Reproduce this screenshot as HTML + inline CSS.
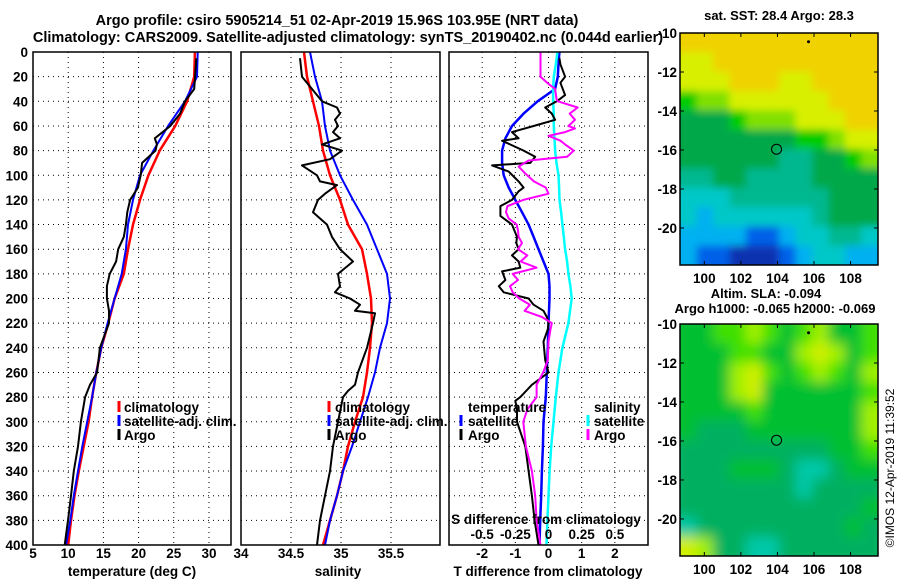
<!DOCTYPE html>
<html><head><meta charset="utf-8"><style>
body{margin:0;background:#fff;}
svg{display:block;font-family:"Liberation Sans",sans-serif;font-weight:bold;}
</style></head><body>
<svg id="c" width="900" height="580" viewBox="0 0 900 580" xmlns="http://www.w3.org/2000/svg">
<defs>
<filter id="blurTop" x="-5%" y="-5%" width="110%" height="110%"><feGaussianBlur stdDeviation="4"/></filter>
<filter id="blurBot" x="-5%" y="-5%" width="110%" height="110%"><feGaussianBlur stdDeviation="6"/></filter>
<clipPath id="clipTop"><rect x="680" y="33" width="198" height="232"/></clipPath>
<clipPath id="clipBot"><rect x="680" y="324" width="198" height="232"/></clipPath>
</defs>
<g font-size="14.5" text-anchor="middle">
<text x="337" y="25">Argo profile: csiro 5905214_51 02-Apr-2019 15.96S 103.95E (NRT data)</text>
<text x="348" y="42">Climatology: CARS2009. Satellite-adjusted climatology: synTS_20190402.nc (0.044d earlier)</text>
</g>
<g id="plots"></g>
<text transform="translate(894,468) rotate(-90)" text-anchor="middle" font-size="12" font-weight="normal">©IMOS 12-Apr-2019 11:39:52</text>
</svg>
<script>
// ---- data ----
const climDepth = [0,20,40,60,80,100,120,140,160,180,200,220,240,260,280,300,320,340,360,380,400];
const tempClim = [28.0,27.9,26.9,25.2,23.0,21.4,20.2,19.2,18.5,17.9,16.6,15.7,14.7,14.0,13.4,12.9,12.2,11.5,10.9,10.4,10.0];
const tempSat  = [28.4,28.3,26.6,24.2,22.1,20.2,19.2,18.5,18.2,17.6,16.6,15.6,14.7,14.0,13.4,12.7,12.0,11.4,10.8,10.3,9.7];
const argoTDepth = [5,30,40,50,60,70,75,80,90,100,110,120,130,140,150,160,170,180,190,200,210,220,240,260,270,280,300,320,340,360,380,400];
const tempArgo = [28.2,27.9,26.6,25.9,24.5,22.3,22.6,22.4,20.5,20.3,19.9,18.8,18.4,18.2,17.9,17.1,16.8,15.9,15.5,15.5,15.8,15.8,14.5,14.1,13.1,12.4,11.8,11.4,10.8,10.4,9.97,9.5];
const salClim = [34.63,34.66,34.72,34.78,34.82,34.89,34.99,35.07,35.21,35.26,35.30,35.31,35.29,35.26,35.22,35.14,35.07,35.02,34.96,34.89,34.82];
const salSat  = [34.69,34.74,34.81,34.84,34.89,34.99,35.12,35.26,35.36,35.46,35.49,35.46,35.39,35.34,35.27,35.19,35.11,35.02,34.96,34.89,34.84];
const argoSDepth = [5,20,30,40,45,50,55,60,65,70,75,80,87,92,100,105,108,115,120,130,140,150,160,170,180,190,195,200,205,210,212,220,240,260,270,275,280,300,320,340,360,380,400];
const salArgo = [34.59,34.61,34.71,34.81,34.96,34.99,34.94,34.97,34.92,34.99,34.81,35.01,34.89,34.61,34.76,34.79,34.96,34.84,34.77,34.72,34.86,34.91,34.99,35.12,34.97,34.99,34.94,35.09,35.19,35.14,35.34,35.32,35.26,35.17,35.14,35.07,35.02,34.97,34.92,34.89,34.84,34.79,34.76];
const diffDepth = [0,10,20,30,40,50,60,70,80,90,100,110,120,130,140,150,160,170,180,190,200,220,240,260,280,300,320,340,360,380,400];
const tDiffSat = [0.33,0.3,0.28,0.2,-0.33,-0.75,-1.1,-1.3,-1.4,-1.4,-1.35,-1.2,-1.0,-0.8,-0.6,-0.45,-0.3,-0.15,0,0.03,0.03,0,-0.02,-0.05,-0.08,-0.15,-0.17,-0.2,-0.22,-0.25,-0.27];
const sDiffSat = [0.068,0.055,0.04,0.035,0.035,0.04,0.04,0.045,0.05,0.06,0.075,0.08,0.083,0.095,0.105,0.115,0.125,0.14,0.15,0.165,0.175,0.15,0.105,0.075,0.055,0.038,0.02,0.008,0,-0.008,-0.015];
const argoDDepth = [5,10,20,25,35,40,45,50,55,60,65,70,72,80,85,90,92,97,105,110,113,120,125,133,140,150,155,160,165,170,175,178,185,190,195,200,205,210,215,220,225,235,250,260,270,280,283,290,300,320,340,360,380,400];
const tDiffArgo = [0.33,0.36,0.5,0.36,0.5,0.25,-0.1,0.1,0.2,-0.45,-1.1,-0.9,-1.4,-0.75,-0.4,-0.55,-1.7,-1.2,-0.9,-0.75,-0.9,-1.1,-1.45,-1.45,-1.1,-0.95,-0.97,-0.9,-1.1,-0.9,-0.85,-1.4,-1.3,-1.5,-1.35,-0.6,-0.45,-0.15,-0.05,0,-0.02,-0.15,-0.1,0,-0.5,-0.85,-1.0,-0.95,-0.95,-0.7,-0.6,-0.5,-0.42,-0.3];
const magDepth = [0,20,25,30,38,40,45,50,55,60,62,65,68,72,75,80,85,88,93,98,105,110,115,120,125,130,135,140,145,150,155,160,165,170,175,180,185,190,195,200,205,210,215,220,225,235,250,260,270,280,290,300,320,340,360,380,400];
const sDiffArgo = [-0.06,-0.06,-0.01,0.05,0.06,0.07,0.22,0.16,0.2,0.15,0.2,0.125,0,0.09,0.125,0.19,0.14,-0.15,-0.225,-0.18,-0.11,-0.02,0,-0.19,-0.31,-0.32,-0.3,-0.24,-0.23,-0.225,-0.2,-0.23,-0.16,-0.21,-0.09,-0.27,-0.23,-0.29,-0.27,-0.22,-0.14,-0.18,-0.05,0.025,0.015,0,-0.005,-0.04,-0.09,-0.09,-0.16,-0.19,-0.17,-0.125,-0.1,-0.09,-0.06];
const depthTicks = [0,20,40,60,80,100,120,140,160,180,200,220,240,260,280,300,320,340,360,380,400];
const tempTicks = [5,10,15,20,25,30];
const salTicks = [34,34.5,35,35.5];
const tdTicks = [-2,-1,0,1,2];
const sdTicks = [-0.5,-0.25,0,0.25,0.5];
const sstGrid = [
[9,9,9,9,9,9,9,9,9,9,9,9],
[8,8,9,9,9,9,9,9,9,9,9,9],
[8,8,8,9,9,9,8,8,9,9,9,9],
[6,7,7,8,8,8,8,8,8,9,9,9],
[5,5,5,6,7,7,7,8,8,8,9,9],
[5,5,5,5,5,5,5,6,6,7,8,8],
[5,5,5,5,5,5,4,4,5,5,6,7],
[4,4,5,5,4,4,4,4,5,5,5,5],
[3,3,3,4,4,4,4,4,4,5,5,5],
[3,2,3,3,3,3,3,3,4,5,5,5],
[2,2,2,2,1,1,2,3,3,4,4,3],
[2,1,1,0,0,0,1,2,3,3,2,2]];
const slaGrid = [
[5,5,6,6,7,6,5,6,7,5,5,6],
[5,5,5,6,6,5,5,7,8,7,5,6],
[5,5,5,7,8,6,5,6,7,6,5,7],
[5,5,5,7,8,5,5,5,5,5,5,6],
[5,5,5,5,6,5,5,5,5,5,5,7],
[5,4,4,4,5,5,5,5,5,5,5,7],
[4,4,4,4,4,4,4,4,4,5,5,6],
[4,4,4,5,5,5,4,3,3,4,5,5],
[4,4,4,4,4,4,4,3,4,4,4,4],
[4,4,4,4,4,4,4,4,4,4,4,5],
[3,4,4,4,4,4,4,4,4,4,5,4],
[8,7,4,4,3,3,4,4,4,4,4,4]];
const lonTicks = [100,102,104,106,108];
const latTicks = [-10,-12,-14,-16,-18,-20];
const argoPos = [103.95,-15.96];

const NS="http://www.w3.org/2000/svg";
const root=document.getElementById('plots');
function el(tag,attrs,parent){const e=document.createElementNS(NS,tag);for(const k in attrs)e.setAttribute(k,attrs[k]);(parent||root).appendChild(e);return e;}
function txt(x,y,s,size,anchor,parent,fill){const t=el('text',{x:x,y:y,'font-size':size,'text-anchor':anchor||'start',fill:fill||'#000'},parent);t.textContent=s;return t;}
const Y0=52,Y1=545;
const dy=d=>Y0+(Y1-Y0)*d/400;
function axisX(x0,x1,v0,v1){return v=>x0+(x1-x0)*(v-v0)/(v1-v0);}
function line(xs,ds,fx,color,w,g,name){const pts=xs.map((v,i)=>fx(v).toFixed(1)+','+dy(ds[i]).toFixed(1)).join(' ');const p=el('polyline',{points:pts,fill:'none',stroke:color,'stroke-width':w,'stroke-linejoin':'round'},g);return p;}
function grid(g,x0,x1,xs){
  depthTicks.forEach(d=>{if(d>0&&d<400){el('line',{x1:x0,x2:x1,y1:dy(d),y2:dy(d),stroke:'#000','stroke-width':1,'stroke-dasharray':'1,4'},g);}});
  xs.forEach(x=>{el('line',{x1:x,x2:x,y1:Y0,y2:Y1,stroke:'#000','stroke-width':1,'stroke-dasharray':'1,4'},g);});
}
function frame(g,x0,x1){el('rect',{x:x0,y:Y0,width:x1-x0,height:Y1-Y0,fill:'none',stroke:'#000','stroke-width':1.5},g);}
function legendTick(g,x,y,color){el('line',{x1:x,x2:x,y1:y-11,y2:y,stroke:color,'stroke-width':3},g);}

// Panel 1: temperature
const g1=el('g',{});


const tx=axisX(33,231,5,33.13);
grid(g1,33,231,tempTicks.slice(1).map(tx));
depthTicks.forEach(d=>{const t=txt(28,dy(d)+5,String(d),13.5,'end',g1);});
tempTicks.forEach(v=>{const t=txt(tx(v),558,String(v),13.5,'middle',g1);});
txt(132,576,'temperature (deg C)',13.5,'middle',g1);
line(tempClim,climDepth,tx,'#f00',2.5,g1,'temp-climatology-line');
line(tempSat,climDepth,tx,'#00f',2,g1,'temp-satellite-line');
line(tempArgo,argoTDepth,tx,'#000',2,g1,'temp-argo-line');
frame(g1,33,231);
const l1=el('g',{},g1);
[['climatology','#f00'],['satellite-adj. clim.','#00f'],['Argo','#000']].forEach((e,i)=>{const y=412+i*14;legendTick(l1,119,y,e[1]);txt(124,y,e[0],13.5,'start',l1);});

// Panel 2: salinity
const g2=el('g',{});


const sx=axisX(241,440,34,35.99);
grid(g2,241,440,salTicks.slice(1).map(sx));
salTicks.forEach(v=>{const t=txt(sx(v),558,String(v),13.5,'middle',g2);});
txt(338,576,'salinity',13.5,'middle',g2);
line(salClim,climDepth,sx,'#f00',2.5,g2,'sal-climatology-line');
line(salSat,climDepth,sx,'#00f',2,g2,'sal-satellite-line');
line(salArgo,argoSDepth,sx,'#000',2,g2,'sal-argo-line');
frame(g2,241,440);
const l2=el('g',{},g2);
[['climatology','#f00'],['satellite-adj. clim.','#00f'],['Argo','#000']].forEach((e,i)=>{const y=412+i*14;legendTick(l2,329,y,e[1]);txt(335,y,e[0],13.5,'start',l2);});

// Panel 3: differences
const g3=el('g',{});


const dx=axisX(449,648,-3,3);
const sdx=axisX(449,648,-0.75,0.75);
grid(g3,449,648,tdTicks.map(dx));
tdTicks.forEach(v=>{const t=txt(dx(v),558,String(v),13.5,'middle',g3);});
txt(548,576,'T difference from climatology',13.5,'middle',g3);
line(tDiffSat,diffDepth,dx,'#00f',2.5,g3,'tdiff-satellite-line');
line(sDiffSat,diffDepth,sdx,'#0ff',2.5,g3,'sdiff-satellite-line');
line(tDiffArgo,argoDDepth,dx,'#000',2,g3,'tdiff-argo-line');
line(sDiffArgo,magDepth,sdx,'#f0f',2,g3,'sdiff-argo-line');
txt(546,524,'S difference from climatology',13.5,'middle',g3);
sdTicks.forEach(v=>{const t=txt(sdx(v),539,String(v),13.5,'middle',g3);});
frame(g3,449,648);
const l3=el('g',{},g3);
txt(468,412,'temperature',13.5,'start',l3);
legendTick(l3,461,426,'#00f');txt(468,426,'satellite',13.5,'start',l3);
legendTick(l3,461,440,'#000');txt(468,440,'Argo',13.5,'start',l3);
txt(594,412,'salinity',13.5,'start',l3);
legendTick(l3,588,426,'#0ff');txt(594,426,'satellite',13.5,'start',l3);
legendTick(l3,588,440,'#f0f');txt(594,440,'Argo',13.5,'start',l3);

// Maps
const sstColors=['#1030b0','#0060e8','#00b0f0','#00c8c8','#00b890','#00a848','#00cc00','#80e000','#d8f000','#f0d200'];
const slaColors=['#00a0c0','#00b8b0','#00c8b0','#00c8a8','#00b060','#00c030','#40e000','#a0f000','#d0f000','#e8f000'];
function map(name,top,grid,colors,clip,blur,title1,title2){
  const g=el('g',{});
  
  
  const x0=680,x1=878,y0=top,y1=top+232;
  const lx=axisX(x0,x1,98.67,109.5), ly=axisX(y0,y1,-10,-21.9);
  const rows=grid.length, cols=grid[0].length;
  const cw=(x1-x0)/cols, ch=(y1-y0)/rows;
  const cg=el('g',{'clip-path':'url(#'+clip+')'},g);
  const bg=el('g',{filter:'url(#'+blur+')'},cg);
  grid.forEach((row,r)=>row.forEach((v,c)=>{
    // extend edge cells outward so blur doesn't fade at borders
    const ex0=c===0?x0-10:x0+c*cw, ex1=c===cols-1?x1+10:x0+(c+1)*cw;
    const ey0=r===0?y0-10:y0+r*ch, ey1=r===rows-1?y1+10:y0+(r+1)*ch;
    const cell=el('rect',{x:ex0.toFixed(2),y:ey0.toFixed(2),width:(ex1-ex0+0.6).toFixed(2),height:(ey1-ey0+0.6).toFixed(2),fill:colors[v]},bg);
    
    
  }));
  el('rect',{x:x0,y:y0,width:x1-x0,height:y1-y0,fill:'none',stroke:'#000','stroke-width':1.5},g);
  latTicks.forEach(v=>{el('line',{x1:x1-4,x2:x1,y1:ly(v),y2:ly(v),stroke:'#000'},g);el('line',{x1:x0,x2:x0+4,y1:ly(v),y2:ly(v),stroke:'#000'},g);const t=txt(x0-3,ly(v)+5,String(v),13.5,'end',g);});
  lonTicks.forEach(v=>{el('line',{x1:lx(v),x2:lx(v),y1:y1-4,y2:y1,stroke:'#000'},g);el('line',{x1:lx(v),x2:lx(v),y1:y0,y2:y0+4,stroke:'#000'},g);const t=txt(lx(v),y1+18,String(v),13.5,'middle',g);});
  const m=el('circle',{cx:lx(argoPos[0]),cy:ly(argoPos[1]),r:5,fill:'none',stroke:'#000','stroke-width':1},g);
  
  
  el('circle',{cx:lx(105.7),cy:ly(-10.45),r:1.5,fill:'#000'},g);
  if(title2){txt(766,top-26,title1,13,'middle',g);txt(775,top-11,title2,13,'middle',g);}
  else {txt(779,top-13,title1,13,'middle',g);}
}
map('sst-map',33,sstGrid,sstColors,'clipTop','blurTop','sat. SST: 28.4 Argo: 28.3');
map('sla-map',324,slaGrid,slaColors,'clipBot','blurBot','Altim. SLA: -0.094','Argo h1000: -0.065 h2000: -0.069');
</script>
</body></html>
